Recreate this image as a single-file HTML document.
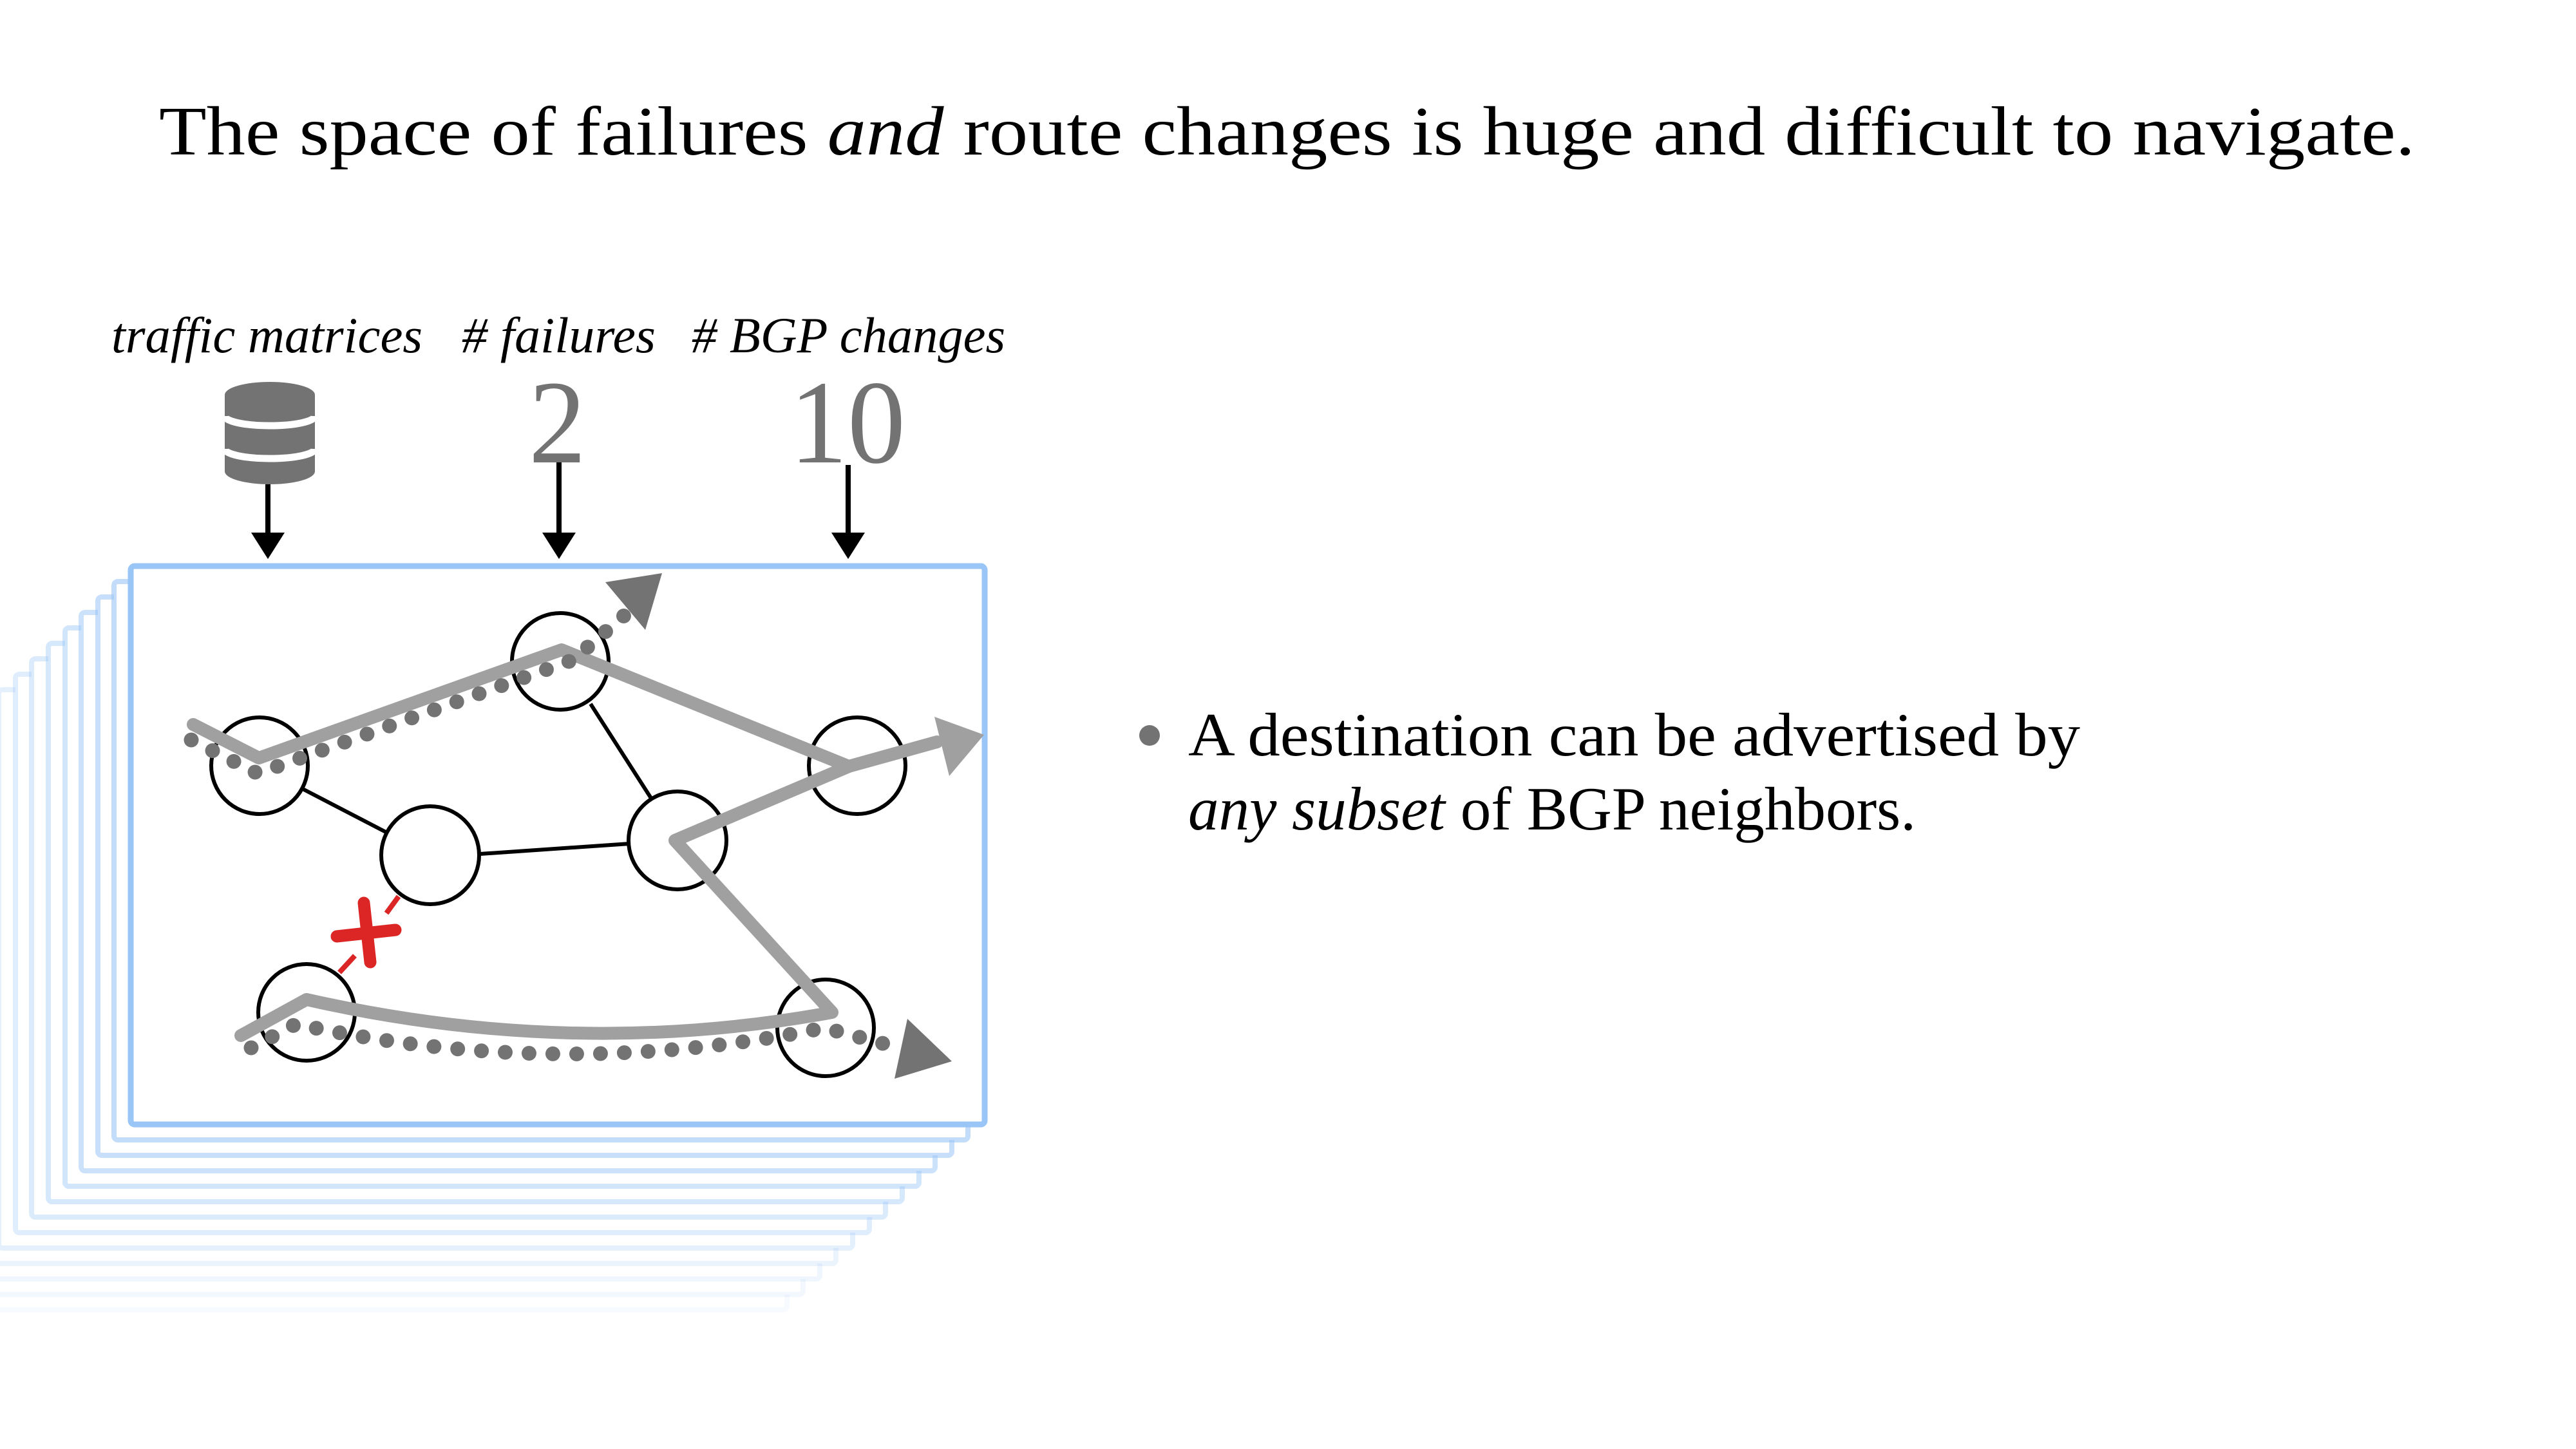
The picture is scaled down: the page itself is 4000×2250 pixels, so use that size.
<!DOCTYPE html>
<html><head><meta charset="utf-8"><style>
html,body{margin:0;padding:0;background:#fff}
svg{display:block}
text{font-family:"Liberation Serif",serif}
</style></head><body>
<svg width="4000" height="2250" viewBox="0 0 4000 2250" xmlns="http://www.w3.org/2000/svg">
<rect width="4000" height="2250" fill="#fff"/>
<text x="247" y="240" font-size="108" textLength="3503" lengthAdjust="spacingAndGlyphs">The space of failures <tspan font-style="italic">and</tspan> route changes is huge and difficult to navigate.</text>

<g font-style="italic" font-size="78">
<text x="173" y="547" textLength="483" lengthAdjust="spacingAndGlyphs">traffic matrices</text>
<text x="717" y="547" textLength="301" lengthAdjust="spacingAndGlyphs"># failures</text>
<text x="1074" y="547" textLength="487" lengthAdjust="spacingAndGlyphs"># BGP changes</text>
</g>
<!-- database -->
<path d="M349,613 A70,20 0 0 1 489,613 L489,732 A70,20 0 0 1 349,732 Z" fill="#737373"/>
<path d="M349,646 A70,15 0 0 0 489,646" fill="none" stroke="#fff" stroke-width="11"/>
<path d="M349,697 A70,15 0 0 0 489,697" fill="none" stroke="#fff" stroke-width="11"/>
<text x="821" y="718" font-size="185" fill="#737373" textLength="89" lengthAdjust="spacingAndGlyphs">2</text>
<text x="1226" y="718" font-size="185" fill="#737373" textLength="180" lengthAdjust="spacingAndGlyphs">10</text>
<g stroke="#000" stroke-width="8">
<line x1="416" y1="752" x2="416" y2="832"/>
<line x1="868" y1="718" x2="868" y2="832"/>
<line x1="1317" y1="722" x2="1317" y2="832"/>
</g>
<g fill="#000">
<polygon points="390,827 442,827 416,868"/>
<polygon points="842,827 894,827 868,868"/>
<polygon points="1291,827 1343,827 1317,868"/>
</g>

<!-- stacked frames -->
<g fill="#fff" stroke="#99c5f7" stroke-width="8">
<rect x="-104" y="1167" width="1326" height="867" rx="6" stroke-opacity="0.08"/>
<rect x="-79" y="1143" width="1326" height="867" rx="6" stroke-opacity="0.12"/>
<rect x="-53" y="1119" width="1326" height="867" rx="6" stroke-opacity="0.16"/>
<rect x="-28" y="1095" width="1326" height="867" rx="6" stroke-opacity="0.20"/>
<rect x="-2" y="1071" width="1326" height="867" rx="6" stroke-opacity="0.25"/>
<rect x="24" y="1047" width="1326" height="867" rx="6" stroke-opacity="0.30"/>
<rect x="49" y="1023" width="1326" height="867" rx="6" stroke-opacity="0.35"/>
<rect x="75" y="999" width="1326" height="867" rx="6" stroke-opacity="0.40"/>
<rect x="101" y="975" width="1326" height="867" rx="6" stroke-opacity="0.45"/>
<rect x="126" y="951" width="1326" height="867" rx="6" stroke-opacity="0.50"/>
<rect x="152" y="927" width="1326" height="867" rx="6" stroke-opacity="0.55"/>
<rect x="177" y="903" width="1326" height="867" rx="6" stroke-opacity="0.60"/>
<rect x="203" y="879" width="1326" height="867" rx="6" stroke-width="9"/>
</g>

<!-- edges -->
<g stroke="#000" stroke-width="6">
<line x1="470" y1="1225" x2="601" y2="1293"/>
<line x1="745" y1="1326" x2="978" y2="1310"/>
<line x1="917" y1="1093" x2="1012" y2="1241"/>
</g>
<g stroke="#dc2626" stroke-width="8">
<line x1="619" y1="1392" x2="600" y2="1418"/>
<line x1="551" y1="1484" x2="527" y2="1510"/>
</g>
<g stroke="#dc2626" stroke-width="19" stroke-linecap="round">
<line x1="565" y1="1402" x2="575" y2="1494"/>
<line x1="523" y1="1454" x2="614" y2="1444"/>
</g>
<!-- nodes -->
<g fill="#fff" stroke="#000" stroke-width="6">
<circle cx="403" cy="1189" r="75"/>
<circle cx="870" cy="1027" r="75"/>
<circle cx="1331" cy="1189" r="75"/>
<circle cx="668" cy="1328" r="76"/>
<circle cx="1052" cy="1305" r="76"/>
<circle cx="476" cy="1572" r="75"/>
<circle cx="1282" cy="1596" r="75"/>
</g>

<!-- gray paths -->
<g fill="none" stroke="#a0a0a0" stroke-width="20" stroke-linecap="round" stroke-linejoin="round">
<path d="M300,1125 L402,1177 L872,1009 L1318,1190"/>
<path d="M1455,1152 L1318,1190 L1048,1305 L1292,1572 Q890,1646 476,1552 L374,1608"/>
</g>
<polygon points="1451,1113 1528,1141 1474,1205" fill="#a0a0a0"/>

<!-- dotted paths -->
<g fill="none" stroke="#737373" stroke-width="23" stroke-linecap="round" stroke-dasharray="0 37">
<path d="M297,1149 L400,1201 L889,1025 L976,950"/>
<path d="M390,1627 L460,1590 Q870,1680 1280,1596 L1400,1628"/>
</g>
<polygon points="940,904 1028,890 1002,978" fill="#737373"/>
<polygon points="1409,1582 1478,1648 1389,1675" fill="#737373"/>

<!-- bullet -->
<circle cx="1785" cy="1142" r="16" fill="#737373"/>
<text x="1845" y="1173" font-size="95" textLength="1385" lengthAdjust="spacingAndGlyphs">A destination can be advertised by</text>
<text x="1845" y="1288" font-size="95" textLength="1130" lengthAdjust="spacingAndGlyphs"><tspan font-style="italic">any subset</tspan> of BGP neighbors.</text>
</svg>
</body></html>
